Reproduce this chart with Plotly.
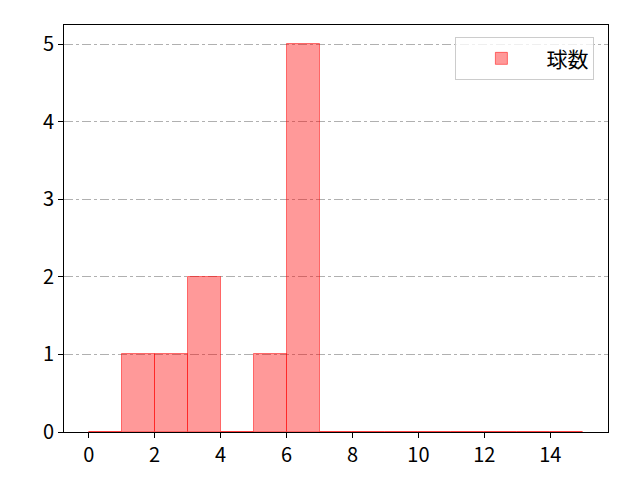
import plotly.graph_objects as go

# histogram bins (edges) and counts per bin
bin_edges = list(range(0, 16))
counts = [0, 1, 1, 2, 0, 1, 5, 0, 0, 0, 0, 0, 0, 0, 0]
series_name = "球数"

x_ticks = [0, 2, 4, 6, 8, 10, 12, 14]
y_ticks = [0, 1, 2, 3, 4, 5]

centers = [(a + b) / 2 for a, b in zip(bin_edges[:-1], bin_edges[1:])]
widths = [b - a for a, b in zip(bin_edges[:-1], bin_edges[1:])]

fig = go.Figure()
fig.add_trace(go.Bar(
    x=centers, y=counts, width=widths, name=series_name,
    marker=dict(color="rgba(255,0,0,0.4)",
                line=dict(color="rgba(255,0,0,0.5)", width=1)),
    showlegend=True,
))

font = "Noto Sans CJK JP, DejaVu Sans, sans-serif"
fig.update_layout(
    width=640, height=480,
    margin=dict(l=64, r=32, t=25, b=48),
    plot_bgcolor="white", paper_bgcolor="white",
    font=dict(family=font, size=20, color="black"),
    bargap=0,
    legend=dict(x=0.975, y=0.97, xanchor="right", yanchor="top",
                bgcolor="rgba(255,255,255,0.8)", bordercolor="#cccccc",
                borderwidth=1, font=dict(size=21), itemwidth=80),
)
fig.update_xaxes(
    range=[-0.75, 15.75], tickvals=x_ticks, showgrid=False, zeroline=False,
    showline=True, linecolor="black", linewidth=1, mirror=True,
    ticks="outside", ticklen=5, tickcolor="black",
)
fig.update_yaxes(
    range=[0, 5.25], tickvals=y_ticks, zeroline=False,
    showgrid=True, gridcolor="#b0b0b0", griddash="dashdot", gridwidth=0.8,
    showline=True, linecolor="black", linewidth=1, mirror=True,
    ticks="outside", ticklen=5, tickcolor="black",
)

fig.write_html("out.html", config={"displayModeBar": False},
               post_script="document.body.style.margin='0';")
